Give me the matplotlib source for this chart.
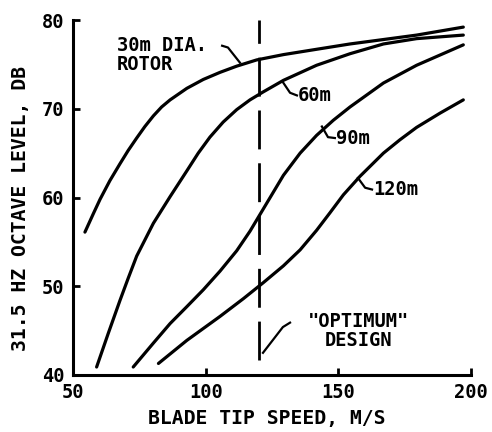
import matplotlib
matplotlib.use("Agg")
import matplotlib.pyplot as plt

# Blade tip speed (m/s) vs 31.5 Hz octave level (dB) for several rotor diameters
x_30 = [54.5, 57.7, 60.2, 63.9, 67.7, 70.8, 74.0, 77.1, 80.3, 83.4, 86.6, 92.9,
        99.1, 105.4, 111.7, 119.2, 129.3, 141.8, 154.4, 167.0, 179.5, 197.1]
y_30 = [56.1, 58.2, 59.8, 61.9, 63.8, 65.3, 66.7, 68.0, 69.2, 70.2, 71.0, 72.3,
        73.3, 74.1, 74.8, 75.5, 76.1, 76.7, 77.3, 77.8, 78.3, 79.2]

x_60 = [58.9, 63.3, 67.7, 70.8, 74.0, 80.3, 86.6, 92.9, 97.2, 101.6, 106.6,
        111.7, 116.7, 121.7, 129.3, 141.8, 154.4, 167.0, 179.5, 197.1]
y_60 = [40.9, 44.7, 48.4, 50.9, 53.4, 57.1, 60.1, 63.0, 65.0, 66.8, 68.5,
        69.9, 71.0, 71.9, 73.2, 74.9, 76.2, 77.3, 77.9, 78.3]

x_90 = [72.7, 80.3, 86.6, 92.9, 99.1, 105.4, 111.7, 116.7, 121.7, 129.3, 135.6,
        141.8, 148.1, 154.4, 167.0, 179.5, 197.1]
y_90 = [40.9, 43.6, 45.8, 47.7, 49.6, 51.7, 54.0, 56.2, 58.7, 62.5, 65.0,
        67.0, 68.7, 70.2, 72.9, 74.9, 77.2]

x_120 = [82.2, 92.9, 105.4, 114.2, 121.7, 129.3, 135.6, 141.8, 146.9, 151.9,
         158.2, 167.0, 173.2, 179.5, 188.3, 197.1]
y_120 = [41.3, 43.9, 46.6, 48.6, 50.4, 52.3, 54.1, 56.3, 58.3, 60.3,
         62.4, 65.0, 66.5, 67.9, 69.5, 71.0]

optimum_speed = 120
x_ticks = [50, 100, 150, 200]
y_ticks = [40, 50, 60, 70, 80]

FONT = "DejaVu Sans Mono"
plt.rcParams["font.family"] = [FONT]
plt.rcParams["font.weight"] = "bold"

fig = plt.figure(figsize=(4.92, 4.32), dpi=100)
ax = fig.add_axes([73/492, 1 - 375/432, (471 - 73)/492, (375 - 20)/432])

lw = 2.3
for xs, ys in [(x_30, y_30), (x_60, y_60), (x_90, y_90), (x_120, y_120)]:
    ax.plot(xs, ys, color="black", lw=lw, solid_capstyle="round",
            solid_joinstyle="round", clip_on=False)

ax.plot([optimum_speed, optimum_speed], [41.7, 80], color="black", lw=2.0,
        dashes=(14, 5), clip_on=False)

ax.set_xlim(50, 200)
ax.set_ylim(40, 80)
ax.set_xticks(x_ticks)
ax.set_yticks(y_ticks)
ax.tick_params(direction="in", length=5, width=2, labelsize=13.5, pad=6)
for lab in ax.get_xticklabels() + ax.get_yticklabels():
    lab.set_fontweight("bold")
ax.spines["top"].set_visible(False)
ax.spines["right"].set_visible(False)
ax.spines["left"].set_linewidth(2.2)
ax.spines["bottom"].set_linewidth(2.2)

ax.set_xlabel("BLADE TIP SPEED, M/S", fontsize=14.2, fontweight="bold")
ax.set_ylabel("31.5 HZ OCTAVE LEVEL, DB", fontsize=14.2, fontweight="bold")
ax.xaxis.set_label_coords(0.487, -0.097)
ax.yaxis.set_label_coords(-0.108, 0.468)

fs = 13.5
def leader(pts):
    xs = [p[0] for p in pts]
    ys = [p[1] for p in pts]
    ax.plot(xs, ys, color="black", lw=1.6, clip_on=False)

ax.text(66.6, 76.1, "30m DIA.\nROTOR", fontsize=fs, fontweight="bold",
        ha="left", va="center", linespacing=1.0)
leader([(106.2, 77.1), (108.4, 76.9), (112.9, 75.2)])

ax.text(134.8, 71.5, "60m", fontsize=fs, fontweight="bold", ha="left", va="center")
leader([(129.1, 73.0), (131.8, 71.8), (134.4, 71.5)])

ax.text(149.0, 66.6, "90m", fontsize=fs, fontweight="bold", ha="left", va="center")
leader([(143.8, 68.0), (146.1, 66.8), (148.7, 66.7)])

ax.text(163.0, 60.9, "120m", fontsize=fs, fontweight="bold", ha="left", va="center")
leader([(157.4, 62.2), (160.1, 61.1), (162.7, 60.9)])

ax.text(157.5, 45.0, "\"OPTIMUM\"\nDESIGN", fontsize=fs, fontweight="bold",
        ha="center", va="center", linespacing=1.0)
leader([(131.8, 45.9), (129.1, 45.4), (121.6, 42.5)])

fig.savefig("out.png", dpi=100)
